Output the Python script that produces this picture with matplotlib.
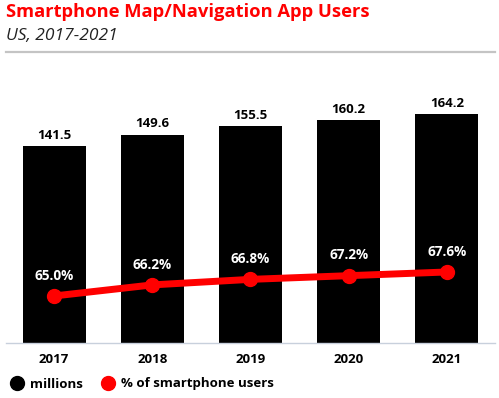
import matplotlib
matplotlib.use("Agg")
import matplotlib.pyplot as plt
from matplotlib.lines import Line2D

plt.rcParams['font.family'] = ['Open Sans', 'DejaVu Sans']

years = ["2017", "2018", "2019", "2020", "2021"]
users = [141.5, 149.6, 155.5, 160.2, 164.2]
share = [65.0, 66.2, 66.8, 67.2, 67.6]

W, H = 499, 398
fig = plt.figure(figsize=(W / 100, H / 100), dpi=100)

# title block
fig.text(6 / W, 1 - 12 / H, "Smartphone Map/Navigation App Users", color="#ff0000",
         fontsize=13.2, fontweight="bold", va="center", ha="left")
fig.text(6 / W, 1 - 36 / H, "US, 2017-2021", color="#222222",
         fontsize=12.5, style="italic", va="center", ha="left")
fig.add_artist(Line2D([6 / W, 495 / W], [1 - 52 / H, 1 - 52 / H], color="#c4c4c4", lw=1.6))

# main axes, plot area from y=70 to y=343 px
ax = fig.add_axes([6 / W, 1 - 343 / H, 489 / W, 273 / H])
x = list(range(len(years)))
ax.bar(x, users, width=0.643, color="black")
ax.set_xlim(-0.49, 4.49)
ax.set_ylim(0, 196)
for xi, v in zip(x, users):
    ax.text(xi, v + 3, f"{v:.1f}", ha="center", va="bottom", fontsize=9.5,
            fontweight="bold", color="black")

for s in ["top", "right", "left"]:
    ax.spines[s].set_visible(False)
ax.spines["bottom"].set_color("#c8d0dc")
ax.spines["bottom"].set_linewidth(1.0)
ax.set_yticks([])
ax.set_xticks(x)
ax.set_xticklabels(years, fontsize=9.5, fontweight="bold")
ax.tick_params(axis="x", length=0, pad=7)

ax2 = ax.twinx()
ax2.plot(x, share, color="#ff0000", lw=5, marker="o", markersize=10, solid_capstyle="round")
ax2.set_ylim(59.9, 89.5)
ax2.set_yticks([])
for s in ["top", "right", "left", "bottom"]:
    ax2.spines[s].set_visible(False)
for xi, v in zip(x, share):
    ax2.text(xi, v + 1.45, f"{v:.1f}%", ha="center", va="bottom", fontsize=9.8,
             fontweight="bold", color="white")

handles = [
    Line2D([], [], color="black", marker="o", lw=0, markersize=10, label="millions"),
    Line2D([], [], color="#ff0000", marker="o", lw=0, markersize=10, label="% of smartphone users"),
]
fig.legend(handles=handles, loc="center left", bbox_to_anchor=(9 / W, 1 - 384 / H),
           ncol=2, frameon=False, handletextpad=0.4, columnspacing=1.3,
           handlelength=1.2, borderaxespad=0, borderpad=0,
           prop={"weight": "bold", "size": 9.5})

fig.savefig("out.png", dpi=100)
